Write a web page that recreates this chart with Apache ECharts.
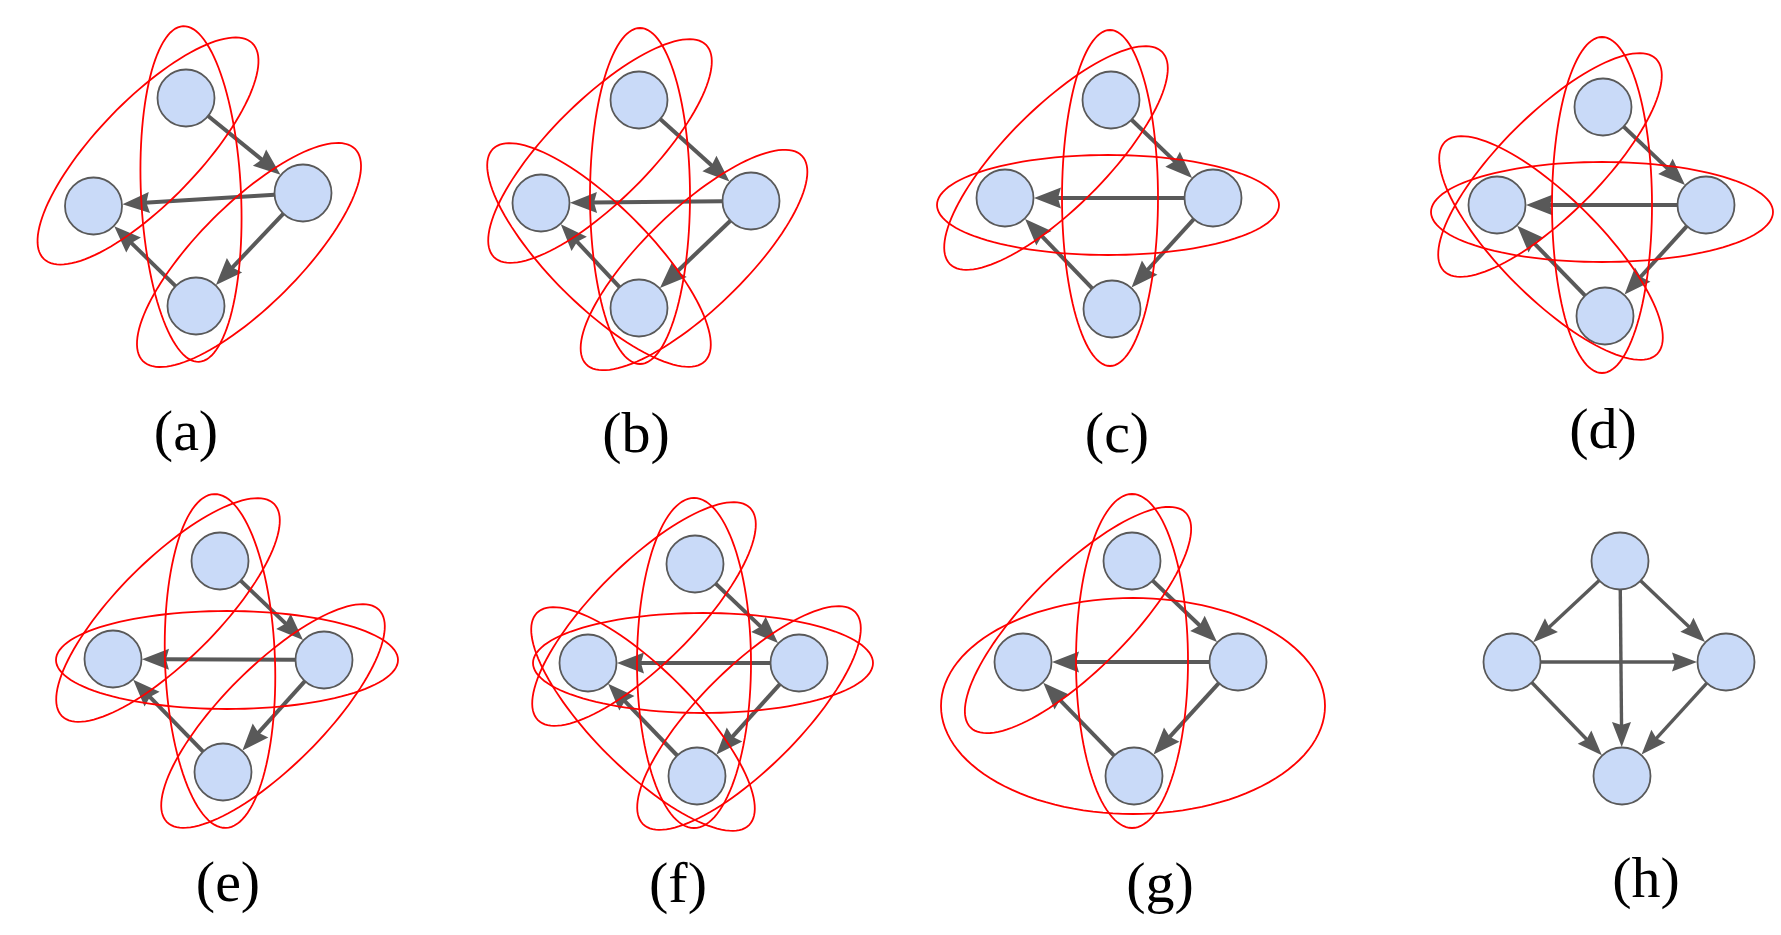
<!DOCTYPE html>
<html>
<head>
<meta charset="utf-8">
<script src="https://cdn.jsdelivr.net/npm/echarts@6/dist/echarts.min.js"></script>
<style>
html, body { margin: 0; padding: 0; background: #fff; }
#main { width: 1781px; height: 935px; }
</style>
</head>
<body>
<div id="main"></div>
<script>
// node centres of each small graph, order: top, left, right, bottom
var nodesA = [[186, 98], [93.5, 206], [303, 193], [196, 306]];
var nodesB = [[639, 100], [541, 203], [751, 201], [639, 308]];
var nodesC = [[1111, 100], [1005, 198], [1213, 198], [1112, 309]];
var nodesD = [[1603, 107], [1497, 205], [1706, 205], [1605, 316]];
var nodesE = [[220, 561], [113, 659], [324, 660], [223, 772]];
var nodesF = [[695, 564], [588, 663], [799, 663], [697, 776]];
var nodesG = [[1132, 561], [1023, 662], [1238, 662], [1134, 776]];
var nodesH = [[1620, 561], [1512, 662], [1726, 662], [1622, 776]];

// edges as [from, to] node index
var cycleEdges = [[0, 2], [2, 1], [2, 3], [3, 1]];
var dagEdges = [[0, 1], [0, 2], [0, 3], [1, 2], [1, 3], [2, 3]];

// red hyperedges: [cx, cy, semi-major, semi-minor, angle deg]
var ellA = [[191, 194, 168, 50, 87.3], [148, 151, 150, 51, -46], [249, 255, 150, 51, -45]];
var ellB = [[640, 196, 168, 50, 90], [600, 151, 150, 50, -45], [694, 260, 150, 50, -44], [599, 255, 150, 50, 45]];
var ellC = [[1110, 198, 168, 48, 90], [1056, 158, 150, 50, -45], [1108, 205, 171, 50, 0]];
var ellD = [[1602, 205, 168, 50, 90], [1550, 165, 150, 50, -45], [1602, 212, 171, 50, 0], [1551, 248, 150, 50, 45]];
var ellE = [[220, 661, 167, 55, 88], [168, 610, 150, 50, -45], [227, 660, 171, 49, 0], [273, 716, 150, 50, -45]];
var ellF = [[694, 663, 165, 57, 90], [644, 614, 150, 50, -45], [703, 663, 170, 50, 0], [643, 719, 150, 50, 45], [749, 718, 150, 50, -45]];
var ellG = [[1132, 661, 167, 56, 90], [1078, 620, 152, 50, -45], [1133, 706, 192, 108, 0]];

var panelLabels = ['(a)', '(b)', '(c)', '(d)', '(e)', '(f)', '(g)', '(h)'];
var labelPos = [[186, 435], [636, 437], [1117, 437], [1603, 433], [228, 886], [678, 887], [1160, 887], [1646, 882]];

var cyclePanels = [nodesA, nodesB, nodesC, nodesD, nodesE, nodesF, nodesG];
var allNodes = cyclePanels.concat([nodesH]);
var allEllipses = [ellA, ellB, ellC, ellD, ellE, ellF, ellG];

function edgeData(nodes, edges) {
    return edges.map(function (e) {
        return [nodes[e[0]][0], nodes[e[0]][1], nodes[e[1]][0], nodes[e[1]][1]];
    });
}

var cycleEdgeData = [];
cyclePanels.forEach(function (n) { cycleEdgeData = cycleEdgeData.concat(edgeData(n, cycleEdges)); });
var dagEdgeData = edgeData(nodesH, dagEdges);

var nodeData = [];
allNodes.forEach(function (n) { nodeData = nodeData.concat(n); });

var ellipseData = [];
allEllipses.forEach(function (e) { ellipseData = ellipseData.concat(e); });

var labelData = labelPos.map(function (p, i) { return [p[0], p[1], i]; });

var NODE_R = 28.5;

function arrowRender(width, headL, headW) {
    return function (params, api) {
        var p1 = api.coord([api.value(0), api.value(1)]);
        var p2 = api.coord([api.value(2), api.value(3)]);
        var dx = p2[0] - p1[0], dy = p2[1] - p1[1];
        var len = Math.sqrt(dx * dx + dy * dy);
        var ux = dx / len, uy = dy / len;
        var nx = -uy, ny = ux;
        var start = [p1[0] + ux * NODE_R, p1[1] + uy * NODE_R];
        var tip = [p2[0] - ux * (NODE_R + 0.5), p2[1] - uy * (NODE_R + 0.5)];
        var base = [tip[0] - ux * headL, tip[1] - uy * headL];
        var notch = [base[0] + ux * 3, base[1] + uy * 3];
        return {
            type: 'group',
            children: [{
                type: 'line',
                shape: { x1: start[0], y1: start[1], x2: notch[0] + ux * 2, y2: notch[1] + uy * 2 },
                style: { stroke: '#595959', lineWidth: width }
            }, {
                type: 'polygon',
                shape: { points: [tip, [base[0] + nx * headW, base[1] + ny * headW], notch, [base[0] - nx * headW, base[1] - ny * headW]] },
                style: { fill: '#595959' }
            }]
        };
    };
}

var chart = echarts.init(document.getElementById('main'));
chart.setOption({
    backgroundColor: '#ffffff',
    animation: false,
    grid: { left: 0, right: 0, top: 0, bottom: 0 },
    xAxis: { type: 'value', min: 0, max: 1781, show: false },
    yAxis: { type: 'value', min: 0, max: 935, inverse: true, show: false },
    series: [
        {
            type: 'custom',
            name: 'edges',
            renderItem: arrowRender(4, 27, 10.5),
            encode: { x: [0, 2], y: [1, 3] },
            data: cycleEdgeData,
            z: 2
        },
        {
            type: 'custom',
            name: 'dag',
            renderItem: arrowRender(3.4, 25, 9.5),
            encode: { x: [0, 2], y: [1, 3] },
            data: dagEdgeData,
            z: 2
        },
        {
            type: 'scatter',
            name: 'nodes',
            symbol: 'circle',
            symbolSize: 57,
            itemStyle: { color: '#c9daf8', borderColor: '#595959', borderWidth: 1.8, opacity: 1 },
            data: nodeData,
            z: 3
        },
        {
            type: 'custom',
            name: 'hyperedges',
            renderItem: function (params, api) {
                var cx = api.value(0), cy = api.value(1);
                var a = api.value(2), b = api.value(3);
                var ang = api.value(4) * Math.PI / 180;
                var pts = [];
                for (var i = 0; i < 120; i++) {
                    var t = i / 120 * 2 * Math.PI;
                    var x = cx + a * Math.cos(t) * Math.cos(ang) - b * Math.sin(t) * Math.sin(ang);
                    var y = cy + a * Math.cos(t) * Math.sin(ang) + b * Math.sin(t) * Math.cos(ang);
                    pts.push(api.coord([x, y]));
                }
                return {
                    type: 'polygon',
                    shape: { points: pts },
                    style: { fill: 'none', stroke: '#ff0000', lineWidth: 1.8 }
                };
            },
            encode: { x: 0, y: 1 },
            data: ellipseData,
            z: 4
        },
        {
            type: 'custom',
            name: 'labels',
            renderItem: function (params, api) {
                var p = api.coord([api.value(0), api.value(1)]);
                return {
                    type: 'text',
                    x: p[0],
                    y: p[1],
                    style: {
                        text: panelLabels[api.value(2)],
                        fill: '#000000',
                        font: '58px "Liberation Serif", "Times New Roman", serif',
                        align: 'center',
                        verticalAlign: 'middle'
                    }
                };
            },
            encode: { x: 0, y: 1 },
            data: labelData,
            z: 5
        }
    ]
});
</script>
</body>
</html>
